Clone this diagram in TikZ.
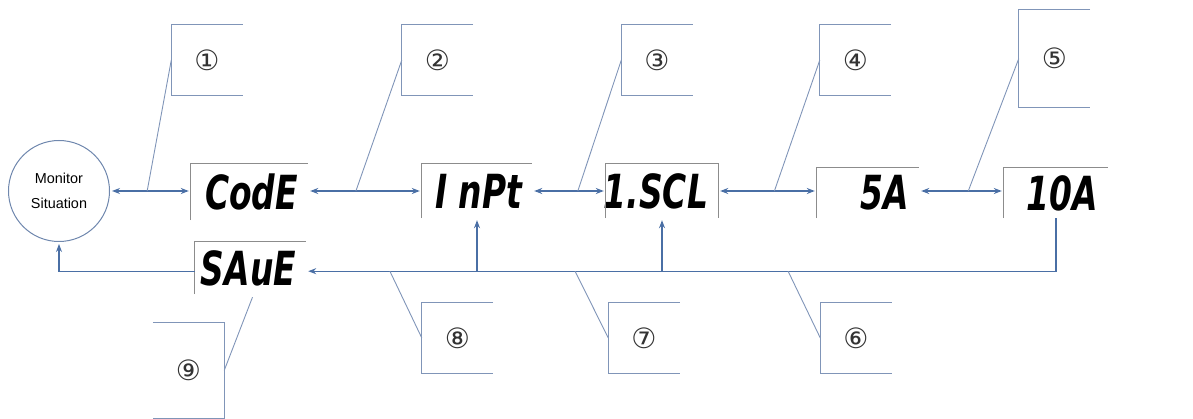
\documentclass[tikz,border=0pt]{standalone}
\usepackage{fontspec}
\setmainfont{Liberation Sans}
\newfontfamily\segfont[FakeStretch=0.70]{DejaVu Sans}
\newfontfamily\numfont{DejaVu Sans}
\usepackage{xcolor}
\definecolor{DarkGrey}{HTML}{333333}
\definecolor{FlowBlue}{HTML}{4A6FA5}
\definecolor{TagBlue}{HTML}{8095B8}
\definecolor{RingBlue}{HTML}{7088AE}
\definecolor{LcdGrey}{HTML}{8C8C8C}
\usepackage{tikz}
\usetikzlibrary{calc,arrows.meta}
\tikzstyle{lcd}=[rectangle,inner sep=0pt,minimum height=54pt]
\tikzstyle{seg}=[font=\segfont\bfseries\itshape\fontsize{47}{47}\selectfont,
                 inner sep=0pt,anchor=east,xshift=-10pt]
\tikzstyle{frame}=[draw=LcdGrey,line width=0.9pt]
\tikzstyle{tag}=[rectangle,inner sep=0pt,minimum width=71pt,minimum height=70pt,
                 font=\numfont\fontsize{28}{28}\selectfont,text=DarkGrey]
\tikzstyle{bracket}=[draw=TagBlue,line width=0.9pt]
\tikzstyle{flow}=[draw=FlowBlue,line width=1.2pt,-{Stealth[length=8pt,width=6pt]},shorten >=2pt]
\tikzstyle{twoway}=[flow,{Stealth[length=8pt,width=6pt]}-{Stealth[length=8pt,width=6pt]},shorten <=2pt]
\begin{document}
\begin{tikzpicture}[x=1pt,y=-1pt]
      \useasboundingbox (0,0) rectangle (1193,419);
      % displays
      \node[circle,draw=RingBlue,line width=1pt,minimum size=101pt,inner sep=0pt,align=center,
            font=\fontsize{14.4}{25}\selectfont] (mon) at (59,191) {Monitor\\Situation};
      \node[lcd,minimum width=117pt,minimum height=56pt,label={[seg]east:CodE}] (code) at (249.5,192) {};
      \node[lcd,minimum width=110pt,label={[seg]east:I nPt}] (inpt) at (477,191) {};
      \node[lcd,minimum width=112pt,label={[seg]east:1.SCL}] (iscl) at (662,191) {};
      \node[lcd,minimum width=102pt,minimum height=50pt,label={[seg]east:5A}] (fiveA) at (868,193) {};
      \node[lcd,minimum width=104pt,minimum height=50pt,label={[seg]east:10A}] (tenA) at (1056,193) {};
      \node[lcd,minimum width=111pt,minimum height=52pt,label={[seg]east:SAuE}] (save) at (250.5,268) {};
      \draw[frame] (code.south west) |- (code.north east);
      \draw[frame] (inpt.south west) |- (inpt.north east);
      \draw[frame] (iscl.south west) |- (iscl.north east) -- (iscl.south east);
      \draw[frame] (fiveA.south west) |- (fiveA.north east);
      \draw[frame] (tenA.south west) |- (tenA.north east);
      \draw[frame] (save.south west) |- (save.north east);
      % main row
      \draw[twoway] (mon.east) -- (mon.east -| code.west);
      \draw[twoway] (mon.east -| code.east) -- (mon.east -| inpt.west);
      \draw[twoway] (mon.east -| inpt.east) -- (mon.east -| iscl.west);
      \draw[twoway] (mon.east -| iscl.east) -- (mon.east -| fiveA.west);
      \draw[twoway] (mon.east -| fiveA.east) -- (mon.east -| tenA.west);
      % way back
      \coordinate (turn) at ($(tenA.south)+(0,53)$);
      \draw[flow] (tenA.south) -- (turn) -- (turn -| save.east);
      \draw[flow] (inpt |- turn) -- (inpt.south);
      \draw[flow] (iscl |- turn) -- (iscl.south);
      \draw[flow] (save.west |- turn) -| (mon.south);
      % callouts
      \node[tag] (t1) at (207,60) {①};
      \node[tag] (t2) at (437.5,60) {②};
      \node[tag] (t3) at (657,60) {③};
      \node[tag] (t4) at (855.5,60) {④};
      \node[tag,minimum height=97pt] (t5) at (1054.5,58.5) {⑤};
      \node[tag] (t6) at (856,338) {⑥};
      \node[tag] (t7) at (644,338) {⑦};
      \node[tag] (t8) at (457.5,338) {⑧};
      \node[tag,minimum height=95pt] (t9) at (188.5,370.5) {⑨};
      \foreach \i in {1,...,8}
        \draw[bracket] (t\i.north east) -- (t\i.north west) -- (t\i.south west) -- (t\i.south east);
      \draw[bracket] (t9.north west) -- (t9.north east) -- (t9.south east) -- (t9.south west);
      \coordinate (j1) at ($(mon.east)!0.46!(mon.east -| code.west)$);
      \coordinate (j2) at ($(mon.east -| code.east)!0.42!(mon.east -| inpt.west)$);
      \coordinate (j3) at ($(mon.east -| inpt.east)!0.62!(mon.east -| iscl.west)$);
      \coordinate (j4) at ($(mon.east -| iscl.east)!0.57!(mon.east -| fiveA.west)$);
      \coordinate (j5) at ($(mon.east -| fiveA.east)!0.58!(mon.east -| tenA.west)$);
      \coordinate (j6) at ($(iscl |- turn)!0.32!(turn)$);
      \coordinate (j7) at ($(inpt |- turn)!0.53!(iscl |- turn)$);
      \coordinate (j8) at ($(save.east |- turn)!0.49!(inpt |- turn)$);
      \foreach \i in {1,...,8}
        \draw[bracket] (t\i.west) -- (j\i);
      \draw[bracket] (t9.east) -- ($(save.south)+(2,3)$);
   \end{tikzpicture}
\end{document}
